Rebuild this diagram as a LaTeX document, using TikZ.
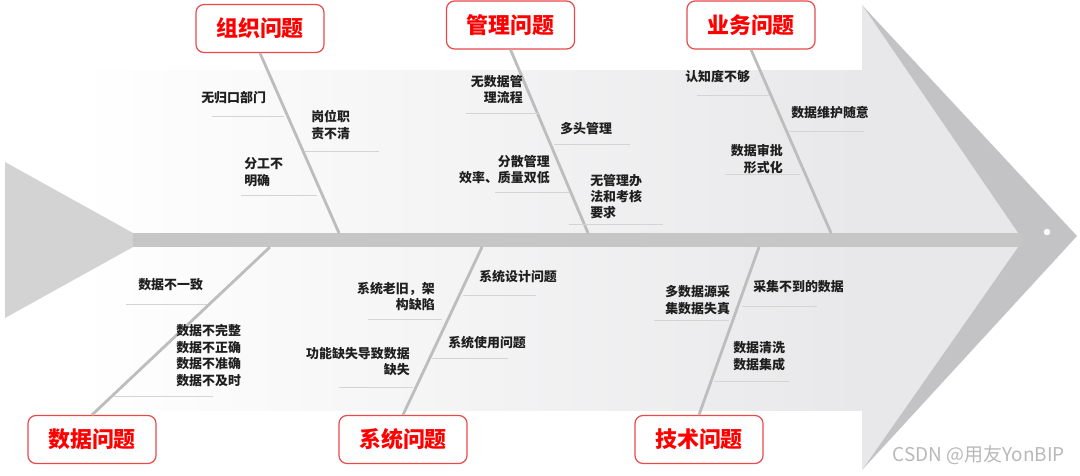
\documentclass[tikz,border=0pt]{standalone}
\usepackage{fontspec}
\setmainfont{Noto Sans CJK SC}

\definecolor{titlered}{HTML}{FF0000}
\definecolor{boxred}{HTML}{E84A4A}
\definecolor{bonegray}{HTML}{BDBDBD}
\definecolor{twiggray}{HTML}{D4D4D4}
\definecolor{spinegray}{HTML}{C6C6C6}
\definecolor{headdark}{HTML}{C3C3C6}
\definecolor{headlight}{HTML}{E8E8EA}
\definecolor{tailgray}{HTML}{D3D3D3}

\begin{document}
\begin{tikzpicture}[x=0.025cm, y=-0.025cm,
    title/.style={draw=boxred, line width=0.85pt, rounded corners=5.7pt, fill=white,
        text=titlered, font=\fontsize{15.6}{18}\selectfont\bfseries,
        minimum width=3.2cm, minimum height=1.2cm, inner sep=0pt},
    cause/.style={font=\fontsize{9.2}{11.7}\selectfont\bfseries, text=black!88, inner sep=0pt},
    bone/.style={bonegray, line width=2pt},
    twig/.style={twiggray, line width=0.7pt}]
    \useasboundingbox (0,0) rectangle (1080,475);

    % 鱼身、鱼头、鱼尾
    \shade[left color=white, right color=headlight] (78,70) rectangle (862,410);
    \fill[headdark] (862,5) -- (1077,236) -- (862,470) -- cycle;
    \fill[headlight] (862,5) -- (1018,233) -- (1018,247) -- (862,470) -- cycle;
    \fill[tailgray] (5,162) -- (133,233) -- (133,247) -- (5,318) -- cycle;
    \fill[spinegray] (133,233) rectangle (1022,247);
    \fill[white] (1047,232) circle [radius=2.3pt];

    % 大类
    \node[title] (zuzhi) at (260,28.5) {组织问题};
    \node[title] (guanli) at (510.5,25) {管理问题};
    \node[title] (yewu) at (751,25) {业务问题};
    \node[title] (shuju) at (92,439.5) {数据问题};
    \node[title] (xitong) at (403,439.5) {系统问题};
    \node[title] (jishu) at (699,439.5) {技术问题};

    % 鱼骨
    \coordinate (zuzhi-end) at (339,233);
    \coordinate (guanli-end) at (588,233);
    \coordinate (yewu-end) at (831,233);
    \coordinate (shuju-end) at (270,247);
    \coordinate (xitong-end) at (482,247);
    \coordinate (jishu-end) at (759,247);
    \draw[bone] (zuzhi.south) -- (zuzhi-end);
    \draw[bone] (guanli.south) -- (guanli-end);
    \draw[bone] (yewu.south) -- (yewu-end);
    \draw[bone] (shuju.north) -- (shuju-end);
    \draw[bone] (xitong.north) -- (xitong-end);
    \draw[bone] (jishu.north) -- (jishu-end);

    % 组织问题
    \node[cause, anchor=west] (z1) at (201,98) {无归口部门};
    \node[cause, anchor=west, align=left] (z2) at (311,125) {岗位职\\责不清};
    \node[cause, anchor=west, align=left] (z3) at (244,172) {分工不\\明确};
    \draw[twig] (212,116) -- (284,116);
    \draw[twig] (305,151) -- (379,151);
    \draw[twig] (241,195) -- (317,195);

    % 管理问题
    \node[cause, anchor=east, align=right] (g1) at (523,89.5) {无数据管\\理流程};
    \node[cause, anchor=west] (g2) at (560,129) {多头管理};
    \node[cause, anchor=east, align=right] (g3) at (550,169.5) {分散管理\\效率、质量双低};
    \node[cause, anchor=west, align=left] (g4) at (590,196.5) {无管理办\\法和考核\\要求};
    \draw[twig] (466,113) -- (540,113);
    \draw[twig] (554,144) -- (630,144);
    \draw[twig] (495,192) -- (569,192);
    \draw[twig] (569,224) -- (663,224);

    % 业务问题
    \node[cause, anchor=west] (y1) at (685,77) {认知度不够};
    \node[cause, anchor=west] (y2) at (791,113) {数据维护随意};
    \node[cause, anchor=east, align=right] (y3) at (783,159) {数据审批\\形式化};
    \draw[twig] (697,95) -- (769,95);
    \draw[twig] (789,131) -- (864,131);
    \draw[twig] (725,174) -- (800,174);

    % 数据问题
    \node[cause, anchor=west] (s1) at (138,285) {数据不一致};
    \node[cause, anchor=west, align=left] (s2) at (176,355.5) {数据不完整\\数据不正确\\数据不准确\\数据不及时};
    \draw[twig] (126,304) -- (207,304);
    \draw[twig] (114,396) -- (213,396);

    % 系统问题
    \node[cause, anchor=east, align=right] (x1) at (435,296.5) {系统老旧，架\\构缺陷};
    \node[cause, anchor=west] (x2) at (479,277) {系统设计问题};
    \node[cause, anchor=west] (x3) at (448,343) {系统使用问题};
    \node[cause, anchor=east, align=right] (x4) at (410,361.5) {功能缺失导致数据\\缺失};
    \draw[twig] (368,319) -- (442,319);
    \draw[twig] (463,295) -- (536,295);
    \draw[twig] (432,358) -- (508,358);
    \draw[twig] (339,387) -- (413,387);

    % 技术问题
    \node[cause, anchor=west, align=left] (j1) at (665,300) {多数据源采\\集数据失真};
    \node[cause, anchor=west] (j2) at (753,287) {采集不到的数据};
    \node[cause, anchor=west, align=left] (j3) at (733,356) {数据清洗\\数据集成};
    \draw[twig] (654,320) -- (729,320);
    \draw[twig] (742,306) -- (817,306);
    \draw[twig] (714,381) -- (789,381);

    % 水印
    \node[font=\fontsize{13.5}{16}\selectfont, text=black!28, anchor=east, inner sep=0pt] (mark) at (1065,455) {CSDN @用友YonBIP};
\end{tikzpicture}
\end{document}
